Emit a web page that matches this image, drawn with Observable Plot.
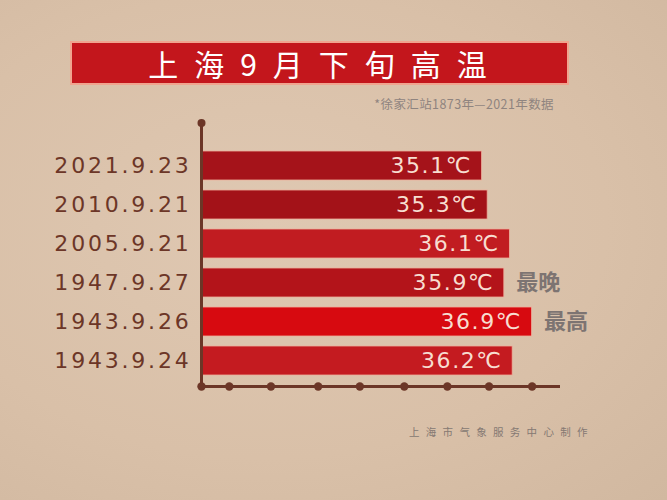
<!DOCTYPE html>
<html>
<head>
<meta charset="utf-8">
<script src="https://cdn.jsdelivr.net/npm/d3@7"></script>
<script src="https://cdn.jsdelivr.net/npm/@observablehq/plot@0.6"></script>
<style>
  html, body { margin: 0; padding: 0; }
  body { width: 667px; height: 500px; overflow: hidden;
    background: radial-gradient(ellipse at 40% 45%, #dfc8b2 0%, #d9c0a8 60%, #d1b8a0 100%);
    font-family: "Noto Sans CJK SC", "DejaVu Sans", sans-serif; }
  #wrap { position: relative; width: 667px; height: 500px; }
  #chart { position: absolute; left: 0; top: 0; }
  #title { position: absolute; left: 70px; top: 41px; width: 495px; height: 40px;
    background: #c3161c; border: 2px solid #f0a48f; color: #fff;
    font-size: 30px; line-height: 40px; text-align: center; letter-spacing: 16px;
    text-indent: 12px; font-family: "Noto Sans CJK SC", sans-serif; }
  #subtitle { position: absolute; right: 113px; top: 94px; font-size: 12.5px;
    letter-spacing: 0.4px;
    color: #8f847f; font-family: "Noto Sans CJK SC", sans-serif; }
  #caption { position: absolute; left: 409px; top: 424px; font-size: 10.5px;
    color: #857973; letter-spacing: 6.3px; font-family: "Noto Sans CJK SC", sans-serif; }
  g[aria-description="date labels"] text { letter-spacing: 2.8px; }
  g[aria-description="value labels"] text { letter-spacing: 1.6px; }
</style>
</head>
<body>
<div id="wrap">
  <div id="chart"></div>
  <div id="title"></div>
  <div id="subtitle"></div>
  <div id="caption"></div>
</div>
<script>
const titleText = "上海9月下旬高温";
const subtitleText = "*徐家汇站1873年—2021年数据";
const captionText = "上海市气象服务中心制作";

const dates = ["2021.9.23", "2010.9.21", "2005.9.21", "1947.9.27", "1943.9.26", "1943.9.24"];
const temps = [35.1, 35.3, 36.1, 35.9, 36.9, 36.2];
const barColors = ["#a5131a", "#a31218", "#c11c21", "#b3141a", "#d70a10", "#c41b20"];
const noteDates = ["1947.9.27", "1943.9.26"];
const noteTexts = ["最晚", "最高"];
const axisTicks = [25, 26, 27.5, 29.2, 30.7, 32.3, 33.85, 35.35, 36.9];

document.getElementById("title").textContent = titleText;
document.getElementById("subtitle").textContent = subtitleText;
document.getElementById("caption").textContent = captionText;

const rows = dates.map((d, i) => ({date: d, temp: temps[i]}));
const notes = noteDates.map((d, i) => ({date: d, note: noteTexts[i], temp: temps[dates.indexOf(d)]}));

const brown = "#6c3627";

const chart = Plot.plot({
  width: 667,
  height: 500,
  marginLeft: 201,
  marginRight: 109,
  marginTop: 139.4,
  marginBottom: 114,
  style: {background: "transparent", overflow: "visible"},
  x: {domain: [25, 37.85], axis: null},
  y: {domain: dates, padding: 0.259, axis: null},
  color: {type: "ordinal", domain: dates, range: barColors},
  marks: [
    Plot.barX(rows, {x1: 25, x2: "temp", y: "date", fill: "date", stroke: "#eeb09c", strokeWidth: 0.8}),
    Plot.ruleX([25], {stroke: brown, strokeWidth: 3, insetTop: -17}),
    Plot.frame({anchor: "bottom", stroke: brown, strokeWidth: 3}),
    Plot.dot([25], {x: d => d, frameAnchor: "top", dy: -17, r: 4, fill: brown}),
    Plot.dot(axisTicks, {x: d => d, frameAnchor: "bottom", r: 4.2, fill: brown}),
    Plot.text(rows, {x: 25, y: "date", text: "date", dx: -10, textAnchor: "end",
      fill: brown, fontSize: 22, fontFamily: "DejaVu Sans", ariaDescription: "date labels"}),
    Plot.text(rows, {x: "temp", y: "date", text: d => d.temp.toFixed(1) + "℃", dx: -10, textAnchor: "end",
      fill: "#f7ddd0", fontSize: 22, fontFamily: "DejaVu Sans", ariaDescription: "value labels"}),
    Plot.text(notes, {x: "temp", y: "date", text: "note", dx: 12, textAnchor: "start",
      fill: "#7d7472", fontSize: 22, fontWeight: "bold", fontFamily: "Noto Sans CJK SC"})
  ]
});
document.getElementById("chart").appendChild(chart);
</script>
</body>
</html>
